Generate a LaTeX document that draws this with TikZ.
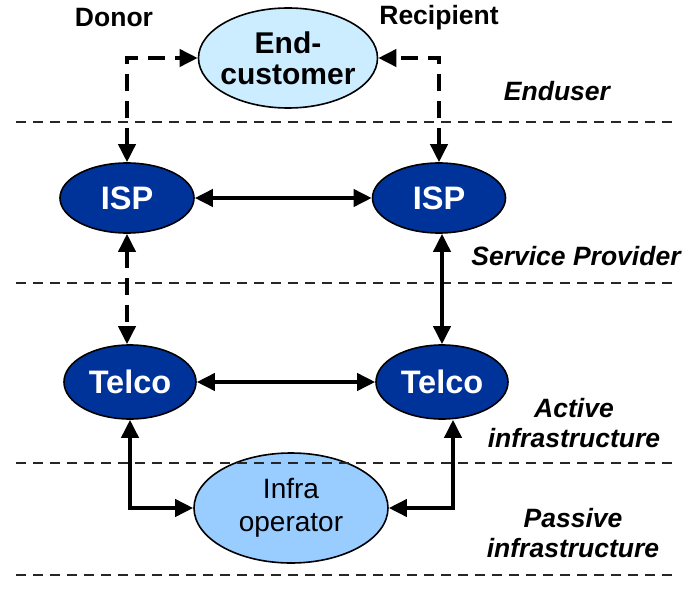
\documentclass[tikz,border=0pt]{standalone}
\usepackage{fontspec}
\setmainfont{Liberation Sans}
\usetikzlibrary{shapes.geometric,arrows.meta}
\definecolor{darkblue}{RGB}{0,51,153}
\definecolor{lightcyan}{RGB}{204,236,255}
\definecolor{infrablue}{RGB}{153,204,255}
\tikzset{
  ell/.style={ellipse, draw=black, line width=1.6pt, inner sep=0pt, align=center},
  darknode/.style={ell, fill=darkblue, text=white, font=\fontsize{32.5}{36}\selectfont\bfseries},
  layerline/.style={line width=1.8pt, dash pattern=on 10pt off 7pt, draw=black!85},
  conn/.style={line width=3.8pt, {Triangle[length=18pt,width=17pt]}-{Triangle[length=18pt,width=17pt]}},
  dconn/.style={conn, dash pattern=on 17pt off 10pt},
  layerlabel/.style={font=\fontsize{26.5}{30}\selectfont\bfseries\itshape, align=center},
  rolelabel/.style={font=\fontsize{26.5}{30}\selectfont\bfseries}
}
\begin{document}
\begin{tikzpicture}[x=1pt,y=-1pt]
\useasboundingbox (0,0) rectangle (692,596);
% nodes
\node[ell, inner xsep=-6pt, fill=lightcyan, minimum width=179pt, minimum height=100pt, font=\fontsize{30}{31}\selectfont\bfseries] (ec) at (288,58) {End-\\customer};
\node[darknode, minimum width=134pt, minimum height=70pt] (isp1) at (127,198) {ISP};
\node[darknode, minimum width=133pt, minimum height=70pt] (isp2) at (439,198) {ISP};
\node[darknode, minimum width=132pt, minimum height=74pt] (tel1) at (130,382) {Telco};
\node[darknode, minimum width=132pt, minimum height=74pt] (tel2) at (442,382) {Telco};
\node[ell, fill=infrablue, minimum width=194pt, minimum height=110pt, font=\fontsize{28}{33}\selectfont] (infra) at (291,508) {Infra\\operator};
% layer lines
\coordinate (l1a) at (16,122); \coordinate (l1b) at (676,122);
\coordinate (l2a) at (16,283); \coordinate (l2b) at (676,283);
\coordinate (l3a) at (16,463); \coordinate (l3b) at (676,463);
\coordinate (l4a) at (16,575); \coordinate (l4b) at (676,575);
\draw[layerline] (l1a) -- (l1b);
\draw[layerline] (l2a) -- (l2b);
\draw[layerline] (l3a) -- (l3b);
\draw[layerline] (l4a) -- (l4b);
% connectors
\draw[dconn] (isp1.north) |- (ec.west);
\draw[dconn] (isp2.north) |- (ec.east);
\draw[conn] (isp1.east) -- (isp2.west);
\draw[dconn] (isp1.south) -- (isp1.south |- tel1.north);
\draw[conn] (tel2.north |- isp2.south) -- (tel2.north);
\draw[conn] (tel1.east) -- (tel2.west);
\draw[conn] (tel1.south) |- (infra.west);
\draw[conn] ([xshift=11pt]tel2.south) |- (infra.east);
% labels
\node[rolelabel] (donor) at (114,18) {Donor};
\node[rolelabel] (recip) at (439,18) {Recipient};
\node[layerlabel] (lab1) at (557,91) {Enduser};
\node[layerlabel] (lab2) at (576,256) {Service Provider};
\node[layerlabel] (lab3) at (574,423) {Active\\infrastructure};
\node[layerlabel] (lab4) at (573,533) {Passive\\infrastructure};
\end{tikzpicture}
\end{document}
